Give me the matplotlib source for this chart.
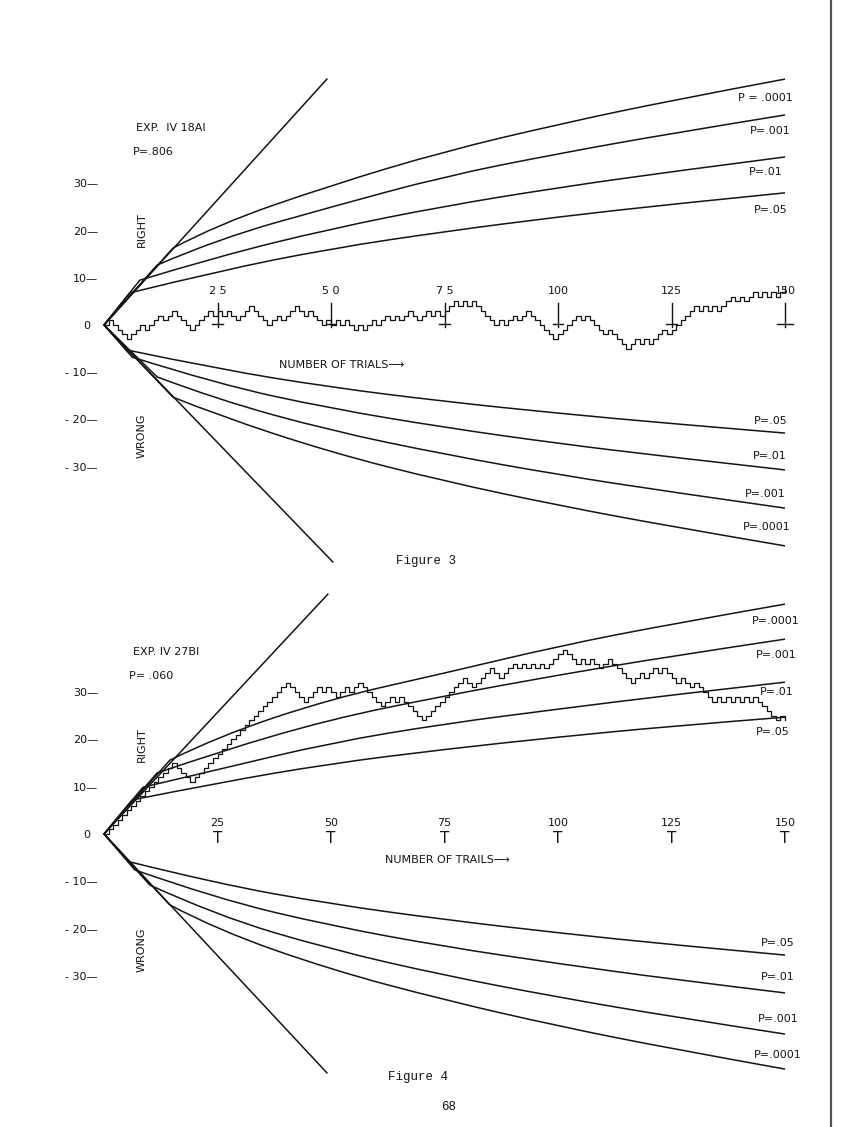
import numpy as np
import matplotlib.pyplot as plt
from matplotlib.lines import Line2D
from matplotlib.path import Path
from matplotlib.patches import PathPatch

W, H = 848, 1127

# 各図の試行位置 (曲線の読み取り点)
curve_t = [25, 50, 75, 100, 125, 150]
p_levels = ['.0001', '.001', '.01', '.05']

# Figure 3 : 有意水準曲線 (RIGHT 側)
f3_up_branch_t = [15.2, 11.7, 7.9, 5.7]
f3_up_branch_v = [16.3, 12.7, 9.5, 6.8]
f3_up_vals = [[21.3, 29.6, 36.8, 42.5, 47.6, 52.1],
              [18.2, 25.0, 31.5, 36.3, 40.6, 44.5],
              [14.5, 20.4, 25.2, 29.1, 32.5, 35.6],
              [11.4, 16.2, 19.8, 22.9, 25.6, 28.0]]
# Figure 3 : WRONG 側
f3_lo_branch_t = [15.2, 11.7, 6.2, 5.1]
f3_lo_branch_v = [-15.3, -11.0, -6.8, -5.3]
f3_lo_vals = [[-19.1, -27.0, -33.1, -38.2, -42.7, -46.8],
              [-15.8, -22.4, -27.4, -31.7, -35.4, -38.8],
              [-12.5, -17.7, -21.7, -25.1, -28.0, -30.7],
              [-9.3, -13.2, -16.2, -18.7, -20.9, -22.9]]
f3_diag_up = (49.1, 52.1)
f3_diag_lo = (50.4, -50.2)

# Figure 4
f4_up_branch_t = [14.5, 11.7, 8.6, 6.2]
f4_up_branch_v = [15.6, 12.9, 9.9, 7.2]
f4_up_vals = [[20.6, 28.6, 34.0, 39.7, 44.4, 48.6],
              [17.3, 24.3, 29.2, 33.6, 37.6, 41.2],
              [13.6, 19.3, 23.3, 26.4, 29.4, 32.1],
              [10.8, 14.9, 17.9, 20.5, 22.8, 24.7]]
f4_lo_branch_t = [14.5, 10.1, 6.8, 5.7]
f4_lo_branch_v = [-15.0, -10.8, -7.6, -5.9]
f4_lo_vals = [[-20.3, -28.7, -35.1, -40.6, -45.4, -49.7],
              [-17.3, -24.4, -29.9, -34.5, -38.6, -42.3],
              [-13.7, -19.4, -23.8, -27.4, -30.7, -33.6],
              [-10.5, -14.8, -18.1, -20.9, -23.4, -25.6]]
f4_diag_up = (49.3, 50.7)
f4_diag_lo = (49.1, -50.5)

# 試行ごとの正誤 (U = right, D = wrong)
f3_steps = ("UDDDD UUUDUU UDUU DDDD UUU UDU DUDD UUU DDDD UUDUUU DDUDD DUDU DUDD "
            "UDUUDUU D UDUU DD UUDU DUUU DUDUD DDD DUD UUDUU DDDDDD UUU UUDUD "
            "DDDUDDDD UUDU DU UUDU UUUUU DUDUD UU UDUDU UDUDUD UU")
f4_steps = ("UUUUUUUUUUUUUUU DDDD UUUUUUUUUUUUUUUUUUUUU DDDD UUU DUDD UUDUU DDD DD "
            "UUDU DDDD DU UUUU UUUU DD UUUU DD UUU DUDU DUD UUUU DDD UDUDDUUD DDDD "
            "UUDUU DUDDDUDDUDD DD UDUDUDUDUD DDDD UD")

f3_marks = [25, 50, 75, 100, 125, 150]
f3_mark_labels = ['2 5', '5 0', '7 5', '100', '125', '150']
f4_marks = [25, 50, 75, 100, 125, 150]

ytick_vals = [-30, -20, -10, 0, 10, 20, 30]
ytick_labels = ['- 30\u2014', '- 20\u2014', '- 10\u2014', '0  ', '10\u2014', '20\u2014', '30\u2014']

INK = '#141414'
SANS = 'DejaVu Sans'
MONO = 'Liberation Mono'

fig = plt.figure(figsize=(W / 100, H / 100), dpi=100)
fig.patch.set_facecolor('white')


def make_axes(top_px, bottom_px, zero_px, unit_px):
    left_px, right_px = 98, 800
    ax = fig.add_axes([left_px / W, 1 - bottom_px / H,
                       (right_px - left_px) / W, (bottom_px - top_px) / H])
    ax.set_xlim((left_px - 104) / 4.54, (right_px - 104) / 4.54)
    ax.set_ylim((zero_px - bottom_px) / unit_px, (zero_px - top_px) / unit_px)
    ax.set_frame_on(False)
    ax.set_xticks([])
    ax.set_yticks(ytick_vals)
    ax.set_yticklabels(ytick_labels, fontsize=8, family=SANS, color=INK)
    ax.tick_params(axis='y', length=0, pad=0)
    return ax


def branch_curve(ax, xs, ys):
    # 原点から分岐点までは対角線に沿い、その先は読み取り点を制御点とする二次ベジェ
    pts = list(zip(xs, ys))
    verts = [pts[0], pts[1]]
    codes = [Path.MOVETO, Path.LINETO]
    for i in range(2, len(pts) - 1):
        if i == len(pts) - 2:
            end = pts[-1]
        else:
            end = ((pts[i][0] + pts[i + 1][0]) / 2, (pts[i][1] + pts[i + 1][1]) / 2)
        verts += [pts[i], end]
        codes += [Path.CURVE3, Path.CURVE3]
    ax.add_patch(PathPatch(Path(verts, codes), fill=False, edgecolor=INK, lw=1.1,
                           joinstyle='round'))


def draw_panel(ax, diag_up, diag_lo, up_bt, up_bv, up_vals, lo_bt, lo_bv, lo_vals, steps):
    ax.plot([0, diag_up[0]], [0, diag_up[1]], color=INK, lw=1.1)
    ax.plot([0, diag_lo[0]], [0, diag_lo[1]], color=INK, lw=1.1)
    for bt, bv, vals in zip(up_bt + lo_bt, up_bv + lo_bv, up_vals + lo_vals):
        branch_curve(ax, [0, bt] + curve_t, [0, bv] + vals)
    moves = [1 if c == 'U' else -1 for c in steps.replace(' ', '')]
    walk = np.concatenate([[0], np.cumsum(moves)])
    ax.step(np.arange(len(walk)), walk, where='post', color=INK, lw=0.9)


ax3 = make_axes(60, 575, 325, 4.72)
draw_panel(ax3, f3_diag_up, f3_diag_lo, f3_up_branch_t, f3_up_branch_v, f3_up_vals,
           f3_lo_branch_t, f3_lo_branch_v, f3_lo_vals, f3_steps)
for t, lab in zip(f3_marks, f3_mark_labels):
    half = 1.7 if t == 150 else 1.2
    ax3.plot([t, t], [4.6, -0.5], color=INK, lw=1.0)
    ax3.plot([t - half, t + half], [0.2, 0.2], color=INK, lw=1.0)
    ax3.text(t, 6.2, lab, ha='center', va='bottom', fontsize=8, family=SANS, color=INK)

ax4 = make_axes(585, 1085, 834, 4.73)
draw_panel(ax4, f4_diag_up, f4_diag_lo, f4_up_branch_t, f4_up_branch_v, f4_up_vals,
           f4_lo_branch_t, f4_lo_branch_v, f4_lo_vals, f4_steps)
for t in f4_marks:
    ax4.text(t, 2.4, str(t), ha='center', va='center', fontsize=8, family=SANS, color=INK)
    ax4.text(t, -0.9, 'T', ha='center', va='center', fontsize=11, family=SANS, color=INK)


def ptext(x, y, s, size=8, rot=0, family=SANS):
    fig.text(x / W, 1 - y / H, s, ha='center', va='center', fontsize=size,
             rotation=rot, family=family, color=INK)


# Figure 3 のテキスト
ptext(171, 128, 'EXP.  IV 18AI')
ptext(153, 152, 'P=.806')
ptext(142, 230, 'RIGHT', rot=90)
ptext(142, 436, 'WRONG', rot=90)
ptext(342, 365, 'NUMBER OF TRIALS\u27f6')
for (x, y), lv in zip([(765, 98), (770, 131), (766, 172), (771, 210)], p_levels):
    ptext(x, y, 'P = ' + lv if lv == '.0001' else 'P=' + lv)
for (x, y), lv in zip([(767, 527), (765, 494), (770, 456), (771, 421)], p_levels):
    ptext(x, y, 'P=' + lv)
ptext(426, 561, 'Figure 3', size=9, family=MONO)

# Figure 4 のテキスト
ptext(166, 652, 'EXP. IV 27BI')
ptext(151, 676, 'P= .060')
ptext(142, 745, 'RIGHT', rot=90)
ptext(142, 950, 'WRONG', rot=90)
ptext(447, 860, 'NUMBER OF TRAILS\u27f6')
for (x, y), lv in zip([(776, 621), (776, 655), (777, 692), (773, 732)], p_levels):
    ptext(x, y, 'P=' + lv)
for (x, y), lv in zip([(778, 1055), (778, 1019), (778, 977), (778, 943)], p_levels):
    ptext(x, y, 'P=' + lv)
ptext(418, 1077, 'Figure 4', size=9, family=MONO)
ptext(449, 1107, '68', size=9, family=MONO)

# 用紙の右端
fig.add_artist(Line2D([831 / W, 831 / W], [0, 1], color='#555555', lw=1.6))

fig.savefig('out.png', dpi=100, facecolor='white')
